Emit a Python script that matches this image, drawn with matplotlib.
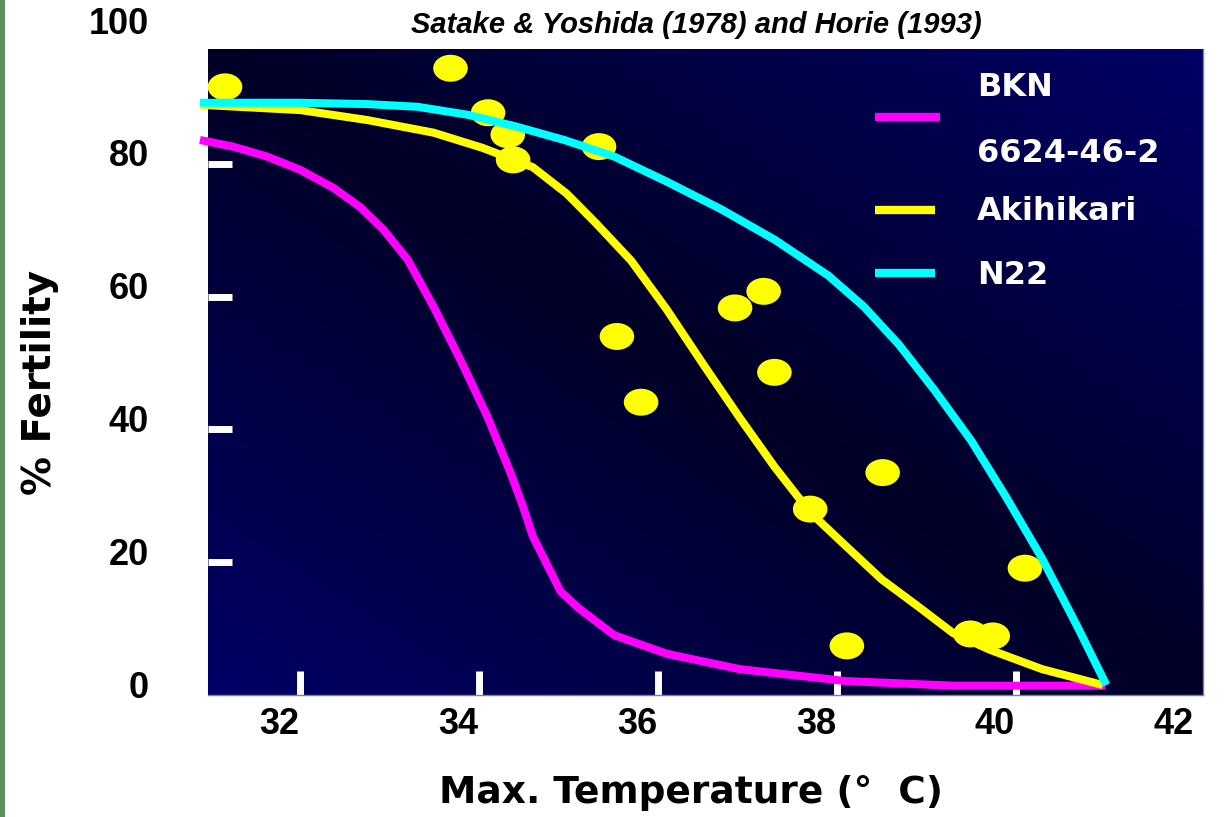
"""Fertility vs. max temperature for four rice lines (slide-style chart)."""

import matplotlib

matplotlib.use("Agg")
import matplotlib.pyplot as plt
import numpy as np
from matplotlib.path import Path
from matplotlib.patches import Rectangle
from matplotlib.transforms import Affine2D, offset_copy

# tick marks and their labels
temp_ticks = [32, 34, 36, 38, 40]
temp_label_pos = [32, 34, 36, 38, 40, 42]
fert_ticks = [20, 40, 60, 80]
fert_label_pos = [0, 20, 40, 60, 80, 100]

# fitted curves
bkn_x = [30.88, 31.25, 31.63, 32.00, 32.37, 32.67, 32.93, 33.20, 33.49, 33.79, 34.09,
         34.35, 34.49, 34.60, 34.91, 35.11, 35.51, 36.10, 36.91, 38.10, 39.30, 41.0]
bkn_y = [83.6, 82.6, 81.1, 79.1, 76.4, 73.5, 70.1, 65.6, 58.5, 50.5, 42.0,
         33.5, 28.4, 23.9, 15.6, 13.1, 9.0, 6.2, 3.9, 2.1, 1.4, 1.4]

aki_x = [30.88, 32.0, 32.75, 33.49, 34.04, 34.60, 34.98, 35.31, 35.70, 36.10, 36.50,
         36.91, 37.30, 37.70, 38.11, 38.50, 38.90, 39.30, 39.71, 40.29, 40.97]
aki_y = [88.9, 88.1, 86.6, 84.7, 82.4, 79.5, 75.5, 71.0, 65.4, 58.0, 49.9,
         41.8, 34.4, 27.5, 22.3, 17.4, 13.4, 9.3, 6.8, 3.9, 1.5]

n22_x = [30.88, 32.0, 32.75, 33.31, 33.87, 34.42, 34.95, 35.51, 36.10, 36.70, 37.30,
         37.90, 38.30, 38.69, 39.09, 39.50, 39.89, 40.29, 40.69, 41.01]
n22_y = [89.2, 89.2, 89.0, 88.6, 87.4, 85.6, 83.6, 81.1, 77.3, 73.2, 68.6,
         63.2, 58.5, 52.8, 45.9, 38.3, 29.8, 20.6, 10.2, 1.5]

# observed Akihikari fertility
obs_x = [31.16, 33.68, 34.10, 34.32, 34.38, 35.34, 35.54, 35.81, 36.86, 37.18, 37.30,
         37.70, 38.51, 38.11, 39.49, 39.74, 40.10]
obs_y = [91.6, 94.4, 87.7, 84.4, 80.6, 82.6, 54.0, 44.1, 58.3, 60.8, 48.6,
         28.0, 33.5, 7.4, 9.2, 8.9, 19.1]

legend_names = ["BKN", "6624-46-2", "Akihikari", "N22"]

MAGENTA = "#ff00ff"
YELLOW = "#ffff00"
CYAN = "#00ffff"

fig = plt.figure(figsize=(12.27, 8.17), dpi=100)
fig.patch.set_facecolor("white")
fig.patches.append(Rectangle((0, 0), 5 / 1227, 1, transform=fig.transFigure,
                             facecolor="#5e8f58", edgecolor="none"))

ax = fig.add_axes([208 / 1227, 1 - 695 / 817, 995 / 1227, 646 / 817])
ax.set_xlim(30.97, 42.09)
ax.set_ylim(0.0, 97.3)

# navy background: dark on the top-left/bottom-right diagonal, lighter at the other corners
u = np.linspace(0, 1, 300)[None, :]
v = np.linspace(0, 1, 300)[:, None]
t = np.abs(u - v)
blue = 0.15 + 0.25 * t
bg = np.dstack([np.zeros_like(blue), np.zeros_like(blue), blue])
ax.imshow(bg, extent=[0, 1, 0, 1], transform=ax.transAxes, aspect="auto",
          origin="upper", zorder=0)

for side in ["top", "left"]:
    ax.spines[side].set_visible(False)
for side in ["right", "bottom"]:
    ax.spines[side].set_color("#7a7ab8")
    ax.spines[side].set_linewidth(1)

ax.set_xticks(temp_ticks)
ax.set_yticks(fert_ticks)
ax.tick_params(axis="both", direction="in", color="white", width=5, length=17,
               labelbottom=False, labelleft=False)

# tick labels (they sit a little off the tick marks, as in the slide)
for xv in temp_label_pos:
    ax.text(xv, 0, str(xv), transform=offset_copy(ax.transData, fig, x=-1, y=-30, units="dots"),
            ha="right", va="center", fontsize=26, fontweight="bold",
            family="Liberation Sans", clip_on=False)
for yv in fert_label_pos:
    ax.text(30.97, yv, str(yv),
            transform=offset_copy(ax.transData, fig, x=-59, y=7, units="dots"),
            ha="right", va="center", fontsize=26, fontweight="bold",
            family="Liberation Sans", clip_on=False)

# points under the curves
marker = Path.unit_circle().transformed(Affine2D().scale(1.0, 0.78))
ax.scatter(obs_x, obs_y, s=620, marker=marker, color=YELLOW, edgecolors="none",
           zorder=2, clip_on=False)

line_kw = dict(lw=5.8, clip_on=False, solid_capstyle="butt", solid_joinstyle="round")
ax.plot(bkn_x, bkn_y, color=MAGENTA, zorder=3, **line_kw)
ax.plot(aki_x, aki_y, color=YELLOW, zorder=3, **line_kw)
ax.plot(n22_x, n22_y, color=CYAN, zorder=4, **line_kw)

# hand-placed legend
ax.plot([0.670, 0.736], [0.895, 0.895], transform=ax.transAxes, color=MAGENTA, lw=6,
        solid_capstyle="butt", zorder=5)
ax.plot([0.670, 0.731], [0.751, 0.751], transform=ax.transAxes, color=YELLOW, lw=6,
        solid_capstyle="butt", zorder=5)
ax.plot([0.670, 0.731], [0.653, 0.653], transform=ax.transAxes, color=CYAN, lw=6,
        solid_capstyle="butt", zorder=5)
for name, ypos in zip(legend_names, [0.940, 0.839, 0.748, 0.650]):
    ax.text(0.773, ypos, name, transform=ax.transAxes, color="white", fontsize=23,
            fontweight="bold", family="DejaVu Sans", ha="left", va="center", zorder=5)

fig.text(696 / 1227, 1 - 25 / 817, "Satake & Yoshida (1978) and Horie (1993)",
         ha="center", va="center", fontsize=21, fontweight="bold", style="italic",
         family="Liberation Sans")
fig.text(691 / 1227, 1 - 793 / 817, "Max. Temperature (\u00b0  C)", ha="center",
         va="center", fontsize=27, fontweight="bold", family="DejaVu Sans")
fig.text(40 / 1227, 1 - 382 / 817, "% Fertility", ha="center", va="center",
         rotation=90, fontsize=28, fontweight="bold", family="DejaVu Sans")

fig.savefig("out.png", dpi=100)
